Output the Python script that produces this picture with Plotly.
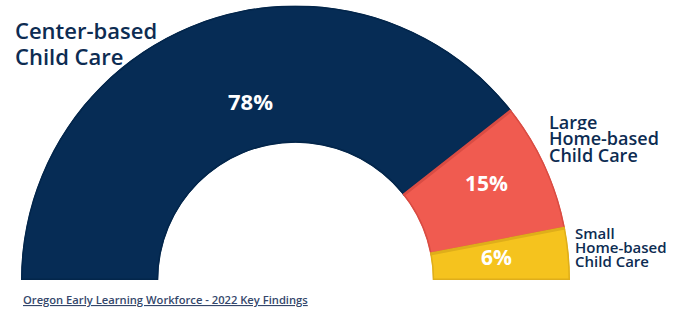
import plotly.graph_objects as go

# Data
categories = ["Center-based Child Care", "Large Home-based Child Care", "Small Home-based Child Care"]
category_lines = [["Center-based", "Child Care"],
                  ["Large", "Home-based", "Child Care"],
                  ["Small", "Home-based", "Child Care"]]
values = [78, 15, 6]
pct_labels = ["78%", "15%", "6%"]
colors = ["#062c55", "#f05b50", "#f5c31e"]
edge_colors = ["#03264b", "#d94c43", "#dfae1a"]
footer = "Oregon Early Learning Workforce - 2022 Key Findings"

total = sum(values)
# angles measured counterclockwise from the right; last category sits at the right end
widths = [v / total * 180 for v in values]
thetas = []
start = 180.0
for w in widths:
    thetas.append(start - w / 2)
    start -= w

fig = go.Figure()
fig.add_trace(go.Barpolar(
    r=[1] * len(values),
    theta=thetas,
    width=widths,
    text=categories,
    marker=dict(color=colors, line=dict(color=edge_colors, width=3)),
    hoverinfo="skip",
    showlegend=False,
))

navy = "#0d2c52"
font_family = "'Open Sans', Lato, sans-serif"
W, H = 681, 309

annotations = []
# category names: x, first-line center, line step, font size
name_layout = [(13, 29.5, 26.5, 22), (547, 121.7, 16.5, 18), (573, 232.5, 14.2, 15)]
for lines, (x, y0, step, s) in zip(category_lines, name_layout):
    for i, line in enumerate(lines):
        annotations.append(dict(
            text=line, x=x / W, y=1 - (y0 + i * step) / H, xref="paper", yref="paper",
            xanchor="left", yanchor="middle", align="left", showarrow=False,
            height=step - 0.5,
            font=dict(family=font_family, size=s, color=navy, weight=600),
        ))
# percentages
pct_pos = [(250, 101, 22), (486, 183, 21), (496, 257, 21)]
for txt, (x, y, s) in zip(pct_labels, pct_pos):
    annotations.append(dict(
        text=txt, x=x / W, y=1 - y / H, xref="paper", yref="paper",
        xanchor="center", yanchor="middle", showarrow=False,
        font=dict(family=font_family, size=s, color="white", weight=700),
    ))
annotations.append(dict(
    text=f"<u>{footer}</u>", x=21 / W, y=1 - 299.5 / H, xref="paper", yref="paper",
    xanchor="left", yanchor="middle", showarrow=False,
    font=dict(family=font_family, size=11.2, color="#34476b", weight=600),
))

fig.update_layout(
    width=W, height=H,
    margin=dict(l=0, r=0, t=0, b=0),
    paper_bgcolor="white", plot_bgcolor="white",
    polar=dict(
        domain=dict(x=[21 / W, 570 / W], y=[29 / H, 303.5 / H]),
        sector=[0, 180],
        hole=0.5,
        bgcolor="white",
        radialaxis=dict(visible=False, range=[0, 1]),
        angularaxis=dict(visible=False),
    ),
    annotations=annotations,
)

fig.write_html("out.html", config={"displayModeBar": False},
               post_script="document.body.style.margin='0px';")
